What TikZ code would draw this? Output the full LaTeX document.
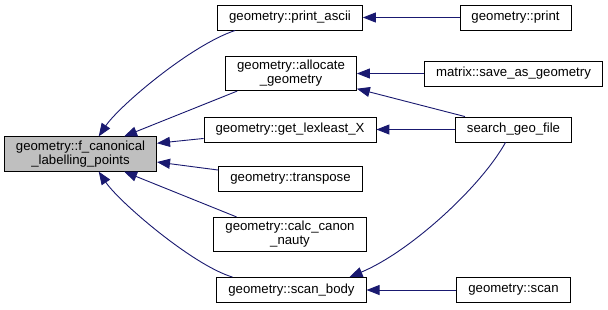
\documentclass[tikz,border=0pt]{standalone}
\usepackage{fontspec}
\setmainfont{Liberation Sans}
\usetikzlibrary{arrows.meta,calc}
\definecolor{midnightblue}{HTML}{191970}
\tikzset{fn/.style={draw,fill=white,line width=0.9pt,align=center,
        inner xsep=11.5pt,inner ysep=4pt,minimum height=25pt,
        font=\fontsize{13.2}{14}\selectfont},
    dep/.style={midnightblue,line width=0.9pt,{Triangle[length=13pt,width=10pt]}-},
    }

\begin{document}
\begin{tikzpicture}[x=1pt,y=1pt]
	\path[fill=white,use as bounding box] (0,0) rectangle (608,-309);
	\node[fn,fill=gray!50] (canon) at (80.5,-154) {geometry::f\_canonical\\\_labelling\_points};
	% direct callers
	\node[fn] (pascii) at (290,-17.5) {geometry::print\_ascii};
	\node[fn] (alloc) at (291,-73.5) {geometry::allocate\\\_geometry};
	\node[fn] (lexleast) at (290,-129.5) {geometry::get\_lexleast\_X};
	\node[fn] (transp) at (290.5,-179) {geometry::transpose};
	\node[fn] (nauty) at (290,-234.5) {geometry::calc\_canon\\\_nauty};
	\node[fn] (scanbody) at (291.5,-290) {geometry::scan\_body};
	% second level
	\node[fn] (print) at (515.5,-17.5) {geometry::print};
	\node[fn] (savegeo) at (513.5,-73.5) {matrix::save\_as\_geometry};
	\node[fn] (search) at (513.5,-129.5) {search\_geo\_file};
	\node[fn] (scan) at (513.5,-290) {geometry::scan};

	\draw[dep] (canon.44) .. controls +(20,30) and +(-45,-15) .. ($(pascii.south west)+(18,0)$);
	\draw[dep] (canon.22) -- ($(alloc.south west)+(12,0)$);
	\draw[dep] (canon.8) -- ($(lexleast.south west)+(0,4)$);
	\draw[dep] (canon.-6) -- ($(transp.north west)+(0,-4)$);
	\draw[dep] (canon.-22) -- ($(nauty.north west)+(23,0)$);
	\draw[dep] (canon.-44) .. controls +(20,-30) and +(-40,12) .. ($(scanbody.north west)+(16,0)$);

	\draw[dep] (pascii) -- (print);
	\draw[dep] (alloc) -- (savegeo);
	\draw[dep] (alloc.-13) -- ($(search.north west)+(10,0)$);
	\draw[dep] (lexleast) -- (search);
	\draw[dep] ($(scanbody.north)+(58,0)$) .. controls +(60,25) and +(-25,-45) .. ($(search.south)+(-8,0)$);
	\draw[dep] (scanbody) -- (scan);
\end{tikzpicture}
\end{document}
